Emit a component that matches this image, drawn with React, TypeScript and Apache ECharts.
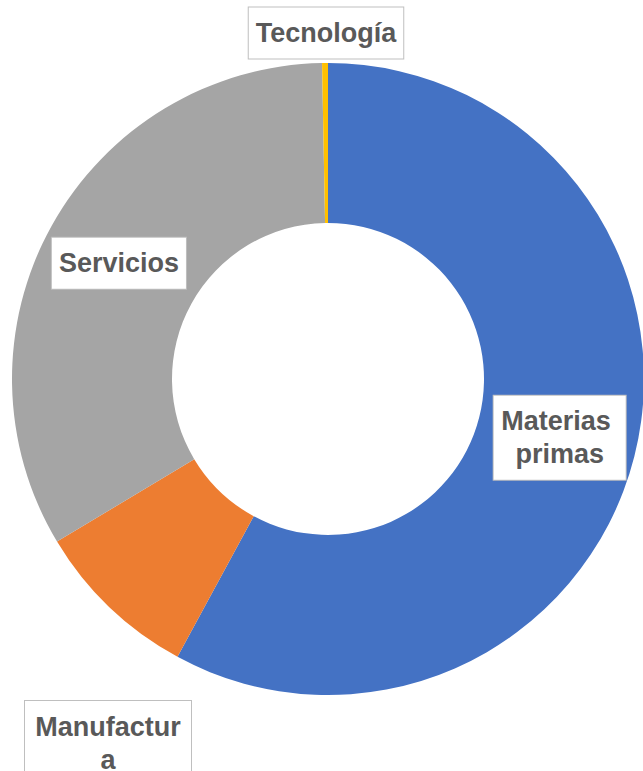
import React, { useEffect, useRef } from "react";
import * as echarts from "echarts";

const categories = ["Materias primas", "Manufactura", "Servicios", "Tecnología"];
const values = [57.9, 8.5, 33.3, 0.3];
const colors = ["#4472C4", "#ED7D31", "#A5A5A5", "#FFC000"];

export default function App() {
  const ref = useRef<HTMLDivElement>(null);
  useEffect(() => {
    document.body.style.margin = "0";
    const chart = echarts.init(ref.current!, null, { renderer: "svg" });
    const labelBase: any = {
      show: true,
      position: "inside",
      formatter: "{b}",
      color: "#595959",
      fontFamily: "Liberation Sans",
      fontWeight: "bold",
      fontSize: 27,
      lineHeight: 33,
      backgroundColor: "#ffffff",
      borderColor: "#BFBFBF",
      borderWidth: 1,
      padding: [9, 7],
      align: "center",
      verticalAlign: "middle",
    };
    const labelExtra: any[] = [
      { width: 118, overflow: "break" },
      { position: "outside", width: 152, overflow: "breakAll" },
      {},
      { position: "outside" },
    ];
    const outsidePos: Record<number, [number, number]> = { 1: [108, 743], 3: [326, 33] };
    chart.setOption({
      animation: false,
      series: [
        {
          type: "pie",
          center: [328, 379],
          radius: [156, 316],
          startAngle: 90,
          clockwise: true,
          avoidLabelOverlap: false,
          emphasis: { disabled: true },
          label: labelBase,
          labelLine: { show: false },
          labelLayout: (p: any) => {
            const pos = outsidePos[p.dataIndex];
            return pos
              ? { x: pos[0], y: pos[1], align: "center", verticalAlign: "middle" }
              : {};
          },
          data: categories.map((name, i) => ({
            name,
            value: values[i],
            itemStyle: { color: colors[i] },
            label: { ...labelBase, ...labelExtra[i] },
            labelLine: { show: false },
          })),
        },
      ],
    });
    return () => chart.dispose();
  }, []);
  return <div ref={ref} style={{ width: 643, height: 771 }} />;
}
